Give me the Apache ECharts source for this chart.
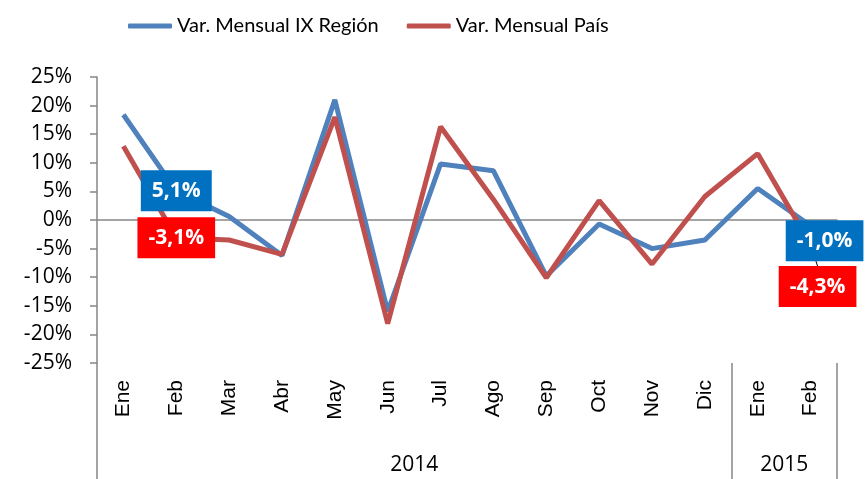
<!DOCTYPE html>
<html>
<head>
<meta charset="utf-8">
<script src="https://cdn.jsdelivr.net/npm/echarts@6/dist/echarts.min.js"></script>
<style>
  html, body { margin: 0; padding: 0; background: #fff; }
  #main { width: 868px; height: 479px; }
</style>
</head>
<body>
<div id="main"></div>
<script>
// meses y años del eje x
var meses = ['Ene', 'Feb', 'Mar', 'Abr', 'May', 'Jun', 'Jul', 'Ago', 'Sep', 'Oct', 'Nov', 'Dic', 'Ene', 'Feb'];
var anios = ['2014', '2015'];
var mesesPorAnio = [12, 2];

// variación mensual (%)
var region = [18.4, 5.1, 0.6, -6.2, 21.0, -16.0, 9.8, 8.6, -9.8, -0.7, -5.0, -3.5, 5.5, -1.0];
var pais = [12.9, -3.1, -3.5, -6.0, 18.0, -18.1, 16.3, 3.6, -10.1, 3.4, -7.7, 4.1, 11.6, -4.3];

// puntos con etiqueta
var etiquetas = [1, 13];

var gris = '#868686';

// límites y centros de cada año sobre el eje de años
var limitesAnio = [0];
var centrosAnio = [];
mesesPorAnio.forEach(function (n, i) {
  centrosAnio.push(limitesAnio[i] + n / 2);
  limitesAnio.push(limitesAnio[i] + n);
});

function fmt(v) {
  return v.toFixed(1).replace('.', ',') + '%';
}

function armarDatos(valores, fondo, offsets, guia) {
  return valores.map(function (v, i) {
    var k = etiquetas.indexOf(i);
    if (k < 0) return v;
    return {
      value: v,
      label: {
        show: true,
        position: 'inside',
        offset: offsets[k],
        formatter: function (p) { return fmt(p.value); },
        backgroundColor: fondo,
        color: '#fff',
        fontFamily: 'Open Sans',
        fontWeight: 'bold',
        fontSize: 21,
        lineHeight: 27,
        padding: [7, 11, 7, 11]
      },
      labelLine: { show: !!guia[k], smooth: false, lineStyle: { color: '#000', width: 1 } }
    };
  });
}

var chart = echarts.init(document.getElementById('main'));

var option = {
  animation: false,
  backgroundColor: '#fff',
  legend: {
    left: 123,
    top: 11,
    icon: 'roundRect',
    itemWidth: 44,
    itemHeight: 5,
    itemGap: 28,
    textStyle: { fontFamily: 'Lato', fontSize: 20, color: '#000' },
    data: ['Var. Mensual IX Región', 'Var. Mensual País']
  },
  grid: { left: 97, right: 31, top: 77, bottom: 116 },
  xAxis: [
    {
      // eje en cero
      type: 'category',
      data: meses,
      position: 'bottom',
      axisLine: { onZero: true, lineStyle: { color: gris, width: 1.5 } },
      axisTick: { length: 8, interval: 0, lineStyle: { color: gris, width: 1.5 } },
      axisLabel: { show: false }
    },
    {
      // meses
      type: 'category',
      data: meses,
      position: 'bottom',
      axisLine: { show: false, onZero: false },
      axisTick: { length: 65, interval: 0, lineStyle: { color: gris, width: 1.5 } },
      axisLabel: {
        interval: 0,
        rotate: 90,
        margin: 17,
        fontFamily: 'Liberation Sans',
        fontSize: 21,
        color: '#000'
      }
    },
    {
      // años
      type: 'value',
      min: 0,
      max: limitesAnio[limitesAnio.length - 1],
      position: 'bottom',
      axisLine: { show: false, onZero: false },
      splitLine: { show: false },
      axisTick: { customValues: limitesAnio, length: 116, lineStyle: { color: gris, width: 1.5 } },
      axisLabel: {
        customValues: centrosAnio,
        margin: 92,
        fontFamily: 'Open Sans',
        fontSize: 21,
        color: '#000',
        formatter: function (v) { return anios[centrosAnio.indexOf(v)]; }
      }
    }
  ],
  yAxis: {
    type: 'value',
    min: -25,
    max: 25,
    interval: 5,
    axisLine: { show: true, lineStyle: { color: gris, width: 1.5 } },
    axisTick: { show: true, length: 7, lineStyle: { color: gris, width: 1.5 } },
    splitLine: { show: false },
    axisLabel: {
      formatter: '{value}%',
      margin: 25,
      fontFamily: 'Open Sans',
      fontSize: 21,
      color: '#000'
    }
  },
  series: [
    {
      name: 'Var. Mensual IX Región',
      type: 'line',
      data: armarDatos(region, '#0070C0', [[0, 0], [14, 15]], [false, false]),
      symbol: 'circle',
      symbolSize: 1,
      color: '#4F81BD',
      lineStyle: { width: 5, color: '#4F81BD' }
    },
    {
      name: 'Var. Mensual País',
      type: 'line',
      data: armarDatos(pais, '#FF0000', [[0, 0], [0, 0]], [false, true]),
      symbol: 'circle',
      symbolSize: 1,
      color: '#C0504D',
      lineStyle: { width: 5, color: '#C0504D' },
      labelLayout: function (p) {
        return p.dataIndex === 13 ? { dx: 7, dy: 42 } : {};
      }
    }
  ]
};

chart.setOption(option);
</script>
</body>
</html>
